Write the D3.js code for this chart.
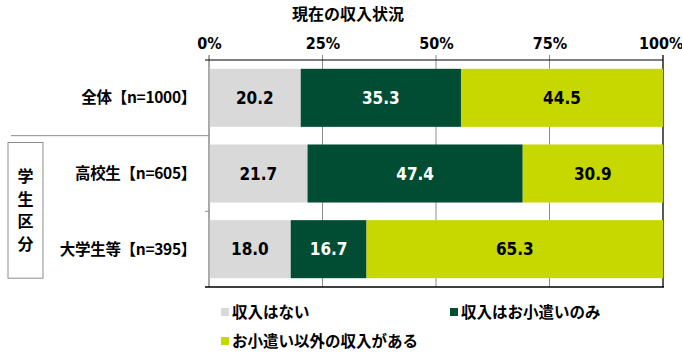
<!DOCTYPE html>
<html>
<head>
<meta charset="utf-8">
<script src="https://cdn.jsdelivr.net/npm/d3@7"></script>
<style>
  body { margin: 0; background: #fff; }
  svg { display: block; }
  .jp { font-family: "Noto Sans CJK JP", "Noto Sans", sans-serif; font-weight: bold; fill: #000; }
  .num { font-family: "Liberation Sans Narrow", "Arial Narrow", "DejaVu Sans Condensed", sans-serif; font-weight: bold; }
</style>
</head>
<body>
<div id="chart"></div>
<script>
// 現在の収入状況 — 100% stacked bars
const categories = ["全体【n=1000】", "高校生【n=605】", "大学生等【n=395】"];
const seriesNames = ["収入はない", "収入はお小遣いのみ", "お小遣い以外の収入がある"];
const noIncome = [20.2, 21.7, 18.0];
const allowanceOnly = [35.3, 47.4, 16.7];
const otherIncome = [44.5, 30.9, 65.3];
const tickValues = [0, 25, 50, 75, 100];
const colors = ["#d9d9d9", "#014d33", "#c6d800"];
const labelColors = ["#000", "#fff", "#000"];

(function () {
  const W = 682, H = 354;
  const margin = { top: 60, right: 19, bottom: 67, left: 209 };
  const width = W - margin.left - margin.right;
  const height = H - margin.top - margin.bottom;

  const svg = d3.select("#chart").append("svg")
    .attr("width", W).attr("height", H);
  const g = svg.append("g").attr("transform", `translate(${margin.left},${margin.top})`);

  const x = d3.scaleLinear().domain([0, 100]).range([0, width]);
  const y = d3.scaleBand().domain(categories).range([0, height])
    .paddingInner(0.233).paddingOuter(0.1165);

  const rows = categories.map((c, i) => {
    const vals = [noIncome[i], allowanceOnly[i], otherIncome[i]];
    let acc = 0;
    return vals.map((v, k) => {
      const seg = { cat: c, k: k, v: v, x0: acc, x1: acc + v };
      acc += v;
      return seg;
    });
  });

  // gridlines (with ticks going above the axis)
  g.selectAll(".grid")
    .data(tickValues)
    .join("line")
    .attr("x1", d => x(d)).attr("x2", d => x(d))
    .attr("y1", -5).attr("y2", height)
    .attr("stroke", d => d === 100 ? "#000" : "#8c8c8c")
    .attr("stroke-width", d => d === 100 ? 1.3 : 1);

  // bars
  g.selectAll(".seg")
    .data(rows.flat())
    .join("rect")
    .attr("x", d => x(d.x0))
    .attr("y", d => y(d.cat))
    .attr("width", d => x(Math.min(d.x1, 100)) - x(d.x0))
    .attr("height", y.bandwidth())
    .attr("fill", d => colors[d.k]);

  // left edge line
  g.append("line")
    .attr("x1", 0).attr("x2", 0).attr("y1", -5).attr("y2", height)
    .attr("stroke", "#8c8c8c");

  // value labels
  g.selectAll(".val")
    .data(rows.flat())
    .join("text")
    .attr("class", "num")
    .attr("x", d => x((d.x0 + d.x1) / 2))
    .attr("y", d => y(d.cat) + y.bandwidth() / 2)
    .attr("dy", "0.36em")
    .attr("text-anchor", "middle")
    .attr("font-size", "17px")
    .attr("fill", d => labelColors[d.k])
    .text(d => d.v.toFixed(1));

  // top axis
  const top = g.append("g")
    .call(d3.axisTop(x).tickValues(tickValues).tickFormat(d => d + "%").tickSize(0).tickPadding(11));
  top.select(".domain").attr("d", `M-4,0H${width}`).attr("stroke", "#000");
  top.selectAll("text")
    .attr("class", "num")
    .attr("font-size", "16px")
    .attr("fill", "#000");
  top.selectAll(".tick").filter(d => d === 100).select("text")
    .attr("text-anchor", "end").attr("dx", "20px");

  // category labels (left)
  const left = g.append("g")
    .call(d3.axisLeft(y).tickSize(0).tickPadding(13));
  left.select(".domain").remove();
  left.selectAll("text")
    .attr("class", "jp")
    .attr("font-size", "15.5px")
    .attr("letter-spacing", "-0.3px")
    .attr("dy", "0.36em");

  // category separators
  const step = y.step();
  const boundaries = d3.range(1, categories.length).map(i => y(categories[i]) - y.paddingInner() * step / 2);
  g.selectAll(".sep")
    .data(boundaries)
    .join("line")
    .attr("x1", (d, i) => i === 0 ? 11 - margin.left : -4)
    .attr("x2", 0)
    .attr("y1", d => d).attr("y2", d => d)
    .attr("stroke", "#8c8c8c");

  // bottom axis line
  g.append("line")
    .attr("x1", -4).attr("x2", width + 1)
    .attr("y1", height).attr("y2", height)
    .attr("stroke", "#000").attr("stroke-width", 1.5);

  // group box 学生区分
  const gy0 = y(categories[1]) - 2, gy1 = y(categories[2]) + y.bandwidth();
  const box = svg.append("g").attr("transform", `translate(0,${margin.top})`);
  box.append("rect")
    .attr("x", 8).attr("y", gy0).attr("width", 35).attr("height", gy1 - gy0)
    .attr("fill", "#fff").attr("stroke", "#8c8c8c");
  const groupChars = ["学", "生", "区", "分"];
  const gmid = (gy0 + gy1) / 2;
  box.selectAll(".gc")
    .data(groupChars)
    .join("text")
    .attr("class", "jp")
    .attr("x", 25.5)
    .attr("y", (d, i) => gmid + (i - 1.5) * 22.5)
    .attr("dy", "0.36em")
    .attr("text-anchor", "middle")
    .attr("font-size", "16px")
    .text(d => d);

  // title
  svg.append("text")
    .attr("class", "jp")
    .attr("x", 348).attr("y", 14)
    .attr("dy", "0.36em")
    .attr("text-anchor", "middle")
    .attr("font-size", "16px")
    .text("現在の収入状況");

  // legend
  const legPos = [[221, 312], [450, 312], [221, 341]];
  const leg = svg.selectAll(".leg")
    .data(seriesNames)
    .join("g")
    .attr("transform", (d, i) => `translate(${legPos[i][0]},${legPos[i][1]})`);
  leg.append("rect")
    .attr("x", 0).attr("y", -4).attr("width", 8).attr("height", 8)
    .attr("fill", (d, i) => colors[i]);
  leg.append("text")
    .attr("class", "jp")
    .attr("x", 11).attr("y", 0).attr("dy", "0.36em")
    .attr("font-size", "15.5px")
    .text(d => d);
})();
</script>
</body>
</html>
